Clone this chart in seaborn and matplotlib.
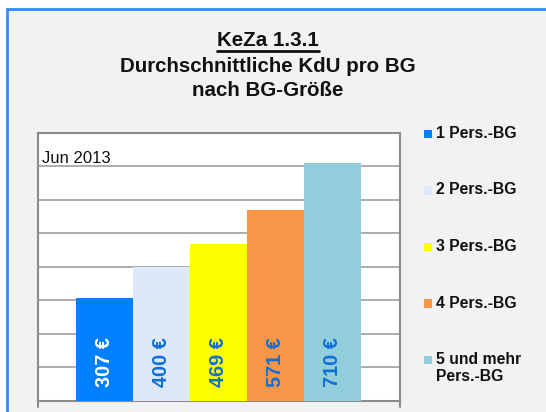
import matplotlib
matplotlib.use("Agg")
import matplotlib.pyplot as plt
import seaborn as sns
import pandas as pd
from matplotlib.patches import Rectangle
from matplotlib.lines import Line2D

categories = ["1 Pers.-BG", "2 Pers.-BG", "3 Pers.-BG", "4 Pers.-BG", "5 und mehr\nPers.-BG"]
values = [307, 400, 469, 571, 710]
value_labels = ["307 €", "400 €", "469 €", "571 €", "710 €"]
colors = ["#0080FF", "#DDE8FA", "#FFFF00", "#F79646", "#92CDDC"]
label_colors = ["#FFFFFF", "#0F6FD6", "#0F6FD6", "#0F6FD6", "#0F6FD6"]
title_lines = ["KeZa 1.3.1", "Durchschnittliche KdU pro BG", "nach BG-Größe"]
period = "Jun 2013"

sns.set_theme(style="white")
plt.rcParams["font.family"] = ["Liberation Sans", "DejaVu Sans"]

W, H = 546, 412
fig = plt.figure(figsize=(W / 100, H / 100), dpi=100)
fig.patch.set_facecolor("white")

# outer frame (light gray panel with blue border, cut off at right/bottom)
frame = Rectangle((6.5 / W, -0.1), 1.2, 1 - 9.5 / H + 0.1, transform=fig.transFigure,
                  facecolor="#F2F2F2", edgecolor="#2E8BFF", linewidth=2, zorder=-10)
fig.patches.append(frame)

ax = fig.add_axes([37.5 / W, 1 - 400.7 / H, 362.5 / W, 267.7 / H])
ax.set_zorder(2)
ax.set_facecolor("white")

df = pd.DataFrame({"cat": categories, "val": values})
sns.barplot(data=df, x="cat", y="val", hue="cat", palette=colors, width=1.0,
            legend=False, ax=ax, saturation=1, zorder=3)
for p in ax.patches:
    p.set_edgecolor("none")

ax.set_xlim(-1.18, 5.18)
ax.set_ylim(0, 800)
ax.set_yticks(range(100, 800, 100))
ax.yaxis.grid(True, color="#A0A0A0", linewidth=1.2, zorder=0)
ax.set_axisbelow(True)
ax.tick_params(axis="y", left=False, labelleft=False)
ax.set_xticks([])
ax.set_xlabel("")
ax.set_ylabel("")
for s in ax.spines.values():
    s.set_color("#8C8C8C")
    s.set_linewidth(1.5)

# small ticks below the axis at both ends
for xf in (37.5, 400):
    fig.add_artist(Line2D([xf / W, xf / W], [1 - 401 / H, 1 - 407 / H],
                          transform=fig.transFigure, color="#8C8C8C", lw=1.5))

for i, (lab, c) in enumerate(zip(value_labels, label_colors)):
    ax.text(i, 42, lab, rotation=90, ha="center", va="bottom", color=c,
            fontsize=14.3, fontweight="bold", zorder=5)

ax.text(0.012, 0.887, period, transform=ax.transAxes, fontsize=12,
        color="#111111", ha="left", va="baseline")

# title
cx = 268 / W
tfs = 14.8
t1 = fig.text(cx, 1 - 40 / H, title_lines[0], ha="center", va="center",
              fontsize=tfs, fontweight="bold", color="#111111")
fig.text(cx, 1 - 66.5 / H, title_lines[1], ha="center", va="center",
         fontsize=tfs, fontweight="bold", color="#111111")
fig.text(cx, 1 - 90 / H, title_lines[2], ha="center", va="center",
         fontsize=tfs, fontweight="bold", color="#111111")
fig.canvas.draw()
bb = t1.get_window_extent().transformed(fig.transFigure.inverted())
fig.add_artist(Line2D([bb.x0, bb.x1], [1 - 50.5 / H, 1 - 50.5 / H],
                      transform=fig.transFigure, color="#111111", lw=2))

# legend (manual, marker aligned with first text line)
ys = [134, 190.5, 247, 303.5, 360]
for y, lab, c in zip(ys, categories, colors):
    fig.patches.append(Rectangle((424 / W, 1 - (y + 4.2) / H), 8.4 / W, 8.4 / H,
                                 transform=fig.transFigure, facecolor=c,
                                 edgecolor="none"))
    fig.text(436 / W, 1 - (y - 8) / H, lab, ha="left", va="top", fontsize=11.3,
             fontweight="bold", color="#111111", linespacing=1.2)

fig.savefig("out.png", dpi=100)
